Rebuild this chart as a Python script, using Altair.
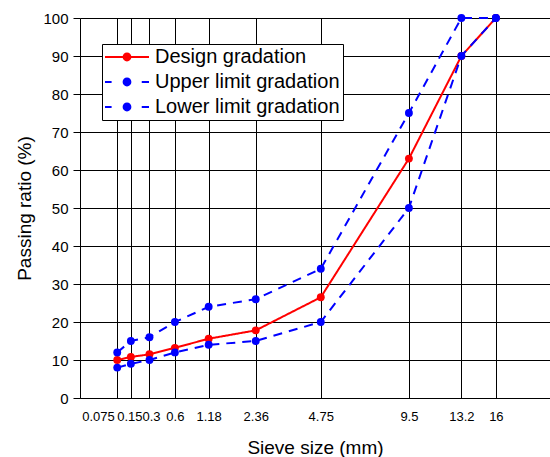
import altair as alt
import pandas as pd

# Sieve openings (mm) and passing percentages for each gradation curve
sieve_mm = [0.075, 0.15, 0.3, 0.6, 1.18, 2.36, 4.75, 9.5, 13.2, 16]
design = [10, 10.8, 11.5, 13.2, 15.6, 17.8, 26.5, 63, 90, 100]
upper = [12, 15, 16, 20, 24, 26, 34, 75, 100, 100]
lower = [8, 9, 10, 12, 14, 15, 20, 50, 90, 100]

series_names = ["Design gradation", "Upper limit gradation", "Lower limit gradation"]
series_colors = ["#ff0000", "#0000ff", "#0000ff"]
y_ticks = list(range(0, 101, 10))

rows = []
for name, vals in zip(series_names, [design, upper, lower]):
    for s, v in zip(sieve_mm, vals):
        rows.append({"sieve": s, "passing": v, "series": name})
df = pd.DataFrame(rows)

FONT = "Liberation Sans"

x_enc = alt.X(
    "sieve:Q",
    scale=alt.Scale(type="pow", exponent=0.45, domain=[0, 21], nice=False, zero=True),
    axis=alt.Axis(
        values=sieve_mm,
        format=".4~g",
        title="Sieve size (mm)",
        grid=True,
        gridColor="#000000",
        gridOpacity=1,
        ticks=False,
        labelOverlap=False,
        labelFlush=False,
        labelPadding=12,
        labelFontSize=13,
        labelAlign={"condition": {"test": "datum.value == 0.075", "value": "right"}, "value": "center"},
        labelOffset={
            "condition": [
                {"test": "datum.value == 0.075", "value": -3},
                {"test": "datum.value == 0.15", "value": -1.5},
                {"test": "datum.value == 0.3", "value": 1.5},
            ],
            "value": 0,
        },
        titlePadding=15,
    ),
)
y_enc = alt.Y(
    "passing:Q",
    scale=alt.Scale(domain=[0, 100], nice=False),
    axis=alt.Axis(
        values=y_ticks,
        title="Passing ratio (%)",
        grid=True,
        gridColor="#000000",
        gridOpacity=1,
        tickSize=7,
        tickColor="#000000",
        labelPadding=5,
        labelFontSize=15,
        titlePadding=8,
    ),
)
color_scale = alt.Scale(domain=series_names, range=series_colors)

# Legend symbols: a line segment with a dot in the middle (solid or dashed)
dot = "M0.2 0A0.2 0.2 0 1 1 -0.2 0A0.2 0.2 0 1 1 0.2 0Z"
solid_sym = "M-1 -0.045H1V0.045H-1Z " + dot
dashed_sym = "M-1 -0.045H-0.7V0.045H-1Z M0.67 -0.045H1V0.045H0.67Z " + dot

layers = []
for name in series_names:
    sub = alt.Chart(df).transform_filter(alt.datum.series == name)
    dash = [1, 0] if name == "Design gradation" else [9, 7]
    line = sub.mark_line(strokeWidth=2, strokeDash=dash).encode(
        x=x_enc, y=y_enc,
        color=alt.Color("series:N", scale=color_scale, legend=None),
        order="sieve:Q",
    )
    pts = sub.mark_circle(size=62, opacity=1).encode(
        x=x_enc, y=y_enc,
        color=alt.Color("series:N", scale=color_scale, legend=None),
    )
    layers += [line, pts]

# Legend-only layer: no rows reach the mark, the legend comes from the scale domain
legend_layer = alt.Chart(df).transform_filter("false").mark_point(
    filled=True, opacity=1, size=1936
).encode(
    x=x_enc, y=y_enc,
    color=alt.Color(
        "series:N", scale=color_scale,
        legend=alt.Legend(
            title=None, orient="none", legendX=22, legendY=26,
            symbolSize=1936, symbolOpacity=1, symbolStrokeWidth=0,
            clipHeight=20, rowPadding=5, padding=3,
            labelFontSize=20, labelFont=FONT, labelOffset=6, labelLimit=400,
            labelColor="#000000",
            labelExpr="datum.label + '  '",
            strokeColor="#000000", fillColor="#ffffff",
        ),
    ),
    shape=alt.Shape(
        "series:N",
        scale=alt.Scale(domain=series_names, range=[solid_sym, dashed_sym, dashed_sym]),
        legend=alt.Legend(title=None),
    ),
)

chart = alt.layer(*layers, legend_layer).resolve_legend(
    color="independent", shape="independent"
).properties(
    width=470,
    height=380,
    background="#ffffff",
    autosize=alt.AutoSizeParams(type="none"),
    padding={"left": 80, "top": 18, "right": 0, "bottom": 59},
).configure_axis(
    domainColor="#000000",
    domainWidth=1,
    labelColor="#000000",
    labelFont=FONT,
    titleFont=FONT,
    titleFontSize=19,
    titleFontWeight="normal",
    titleColor="#000000",
    gridWidth=1,
).configure_view(
    stroke=None
)

chart.save("out.html", embed_options={"renderer": "svg", "actions": False})
